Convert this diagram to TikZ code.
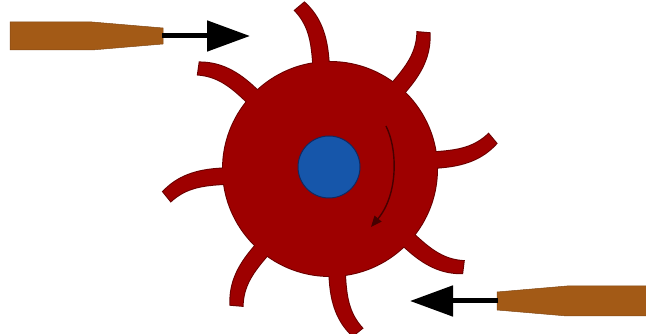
\documentclass[tikz,border=0pt]{standalone}
\usetikzlibrary{arrows.meta}

\definecolor{wheelred}{RGB}{158,0,0}
\definecolor{wheeledge}{RGB}{105,0,0}
\definecolor{hubblue}{RGB}{22,86,170}
\definecolor{hubedge}{RGB}{20,40,95}
\definecolor{nozzlebrown}{RGB}{163,90,22}
\definecolor{nozzleedge}{RGB}{130,72,20}
\definecolor{spinmark}{RGB}{70,0,0}

\tikzset{
  % one curved bucket, pointing along +x, bent counter-clockwise
  bucket/.pic={
    \path[pic actions] (95,-12) .. controls (103,-8) .. (112,-8)
      .. controls (140,-8) and (156,0) .. (168,11) -- (161,21)
      .. controls (146,9) and (130,7.5) .. (112,7.5)
      .. controls (103,7.5) .. (95,11) -- cycle;
  },
  nozzlebody/.style={fill=nozzlebrown, draw=nozzleedge, line width=0.5pt},
  jet/.style={line width=5pt, -{Triangle[length=43pt,width=30pt]}},
  spin/.style={draw=spinmark, line width=1.4pt, -{Triangle[length=11pt,width=9pt]}}
}

\begin{document}
\begin{tikzpicture}[x=1pt, y=1pt]
  \useasboundingbox (0,0) rectangle (646,334);

  % wheel: outline pass first, then fill pass, so pieces merge smoothly
  \begin{scope}[shift={(330,165)}]
    \foreach \a in {95,50,5,-42,-86,-130,184,137}
      \pic[rotate=\a, draw=wheeledge, line width=2pt] {bucket};
    \draw[wheeledge, line width=2pt] (0,0) circle[radius=107];
    \foreach \a in {95,50,5,-42,-86,-130,184,137}
      \pic[rotate=\a, fill=wheelred] {bucket};
    \fill[wheelred] (0,0) circle[radius=107];
  \end{scope}

  % hub
  \filldraw[fill=hubblue, draw=hubedge, line width=1pt] (329,167) circle[radius=31];

  % direction of rotation
  \coordinate (spinA) at (386,208);
  \coordinate (spinB) at (371,107);
  \draw[spin] (spinA) .. controls (398,184) and (398,139) .. (spinB);

  % upper nozzle and its jet
  \path[nozzlebody] (10,312) -- (92,312) -- (163,306) -- (163,290)
    -- (92,284) -- (10,284) -- cycle;
  \coordinate (jetA0) at (162,298);
  \coordinate (jetA1) at (250,298);
  \draw[jet] (jetA0) -- (jetA1);

  % lower nozzle and its jet
  \path[nozzlebody] (647,48) -- (567,48) -- (497,42) -- (497,24)
    -- (567,18) -- (647,18) -- cycle;
  \coordinate (jetB0) at (498,33);
  \coordinate (jetB1) at (410,33);
  \draw[jet] (jetB0) -- (jetB1);
\end{tikzpicture}
\end{document}
